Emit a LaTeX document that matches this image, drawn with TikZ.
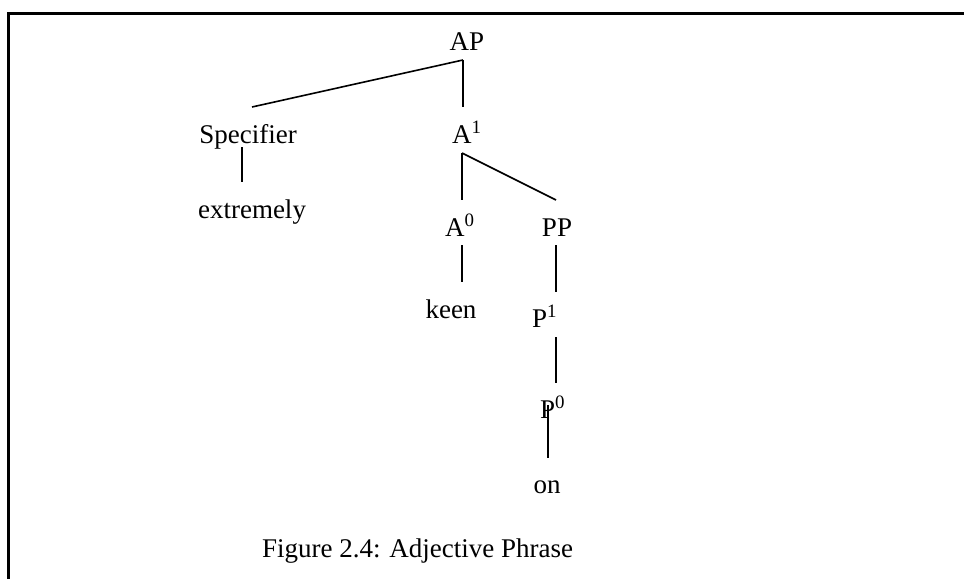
\documentclass[tikz,border=0pt]{standalone}
\usepackage{fontspec}
\setmainfont{Liberation Serif}
\usetikzlibrary{calc}
\begin{document}
\begin{tikzpicture}[x=1pt,y=-1pt,
  lbl/.style={inner sep=0pt,outer sep=0pt,font=\fontsize{27}{32}\selectfont},
  edge/.style={line width=1.6pt},
  frame/.style={line width=3pt}]
\useasboundingbox (0,0) rectangle (964,579);
% frame
\coordinate (fr) at (964,13);
\coordinate (fc) at (8,13);
\coordinate (fb) at (8,579);
\draw[frame] (fr) -- (fc) -- (fb);
% nodes
\node[lbl,anchor=base] (AP) at (467,50) {AP};
\node[lbl,anchor=base] (Spec) at (248,143) {Specifier};
\node[lbl,anchor=base west] (A1) at (452,143) {A\textsuperscript{1}};
\node[lbl,anchor=base] (ext) at (252,218) {extremely};
\node[lbl,anchor=base west] (A0) at (445,236) {A\textsuperscript{0}};
\node[lbl,anchor=base] (PP) at (557,236) {PP};
\node[lbl,anchor=base] (keen) at (451,318) {keen};
\node[lbl,anchor=base west] (P1) at (532,327) {P\textsuperscript{1}};
\node[lbl,anchor=base west] (P0) at (540,418) {P\textsuperscript{0}};
\node[lbl,anchor=base] (on) at (547,493) {on};
\node[lbl,anchor=base west] (cap) at (262,557) {Figure 2.4: Adjective Phrase};
% edges
\draw[edge] ($(AP.base)+(-4,10)$) -- ($(Spec.base)+(4,-36)$);
\draw[edge] ($(AP.base)+(-4,10)$) -- ($(A1.base west)+(11,-36)$);
\draw[edge] ($(Spec.base)+(-6,4)$) -- ($(ext.base)+(-10,-36)$);
\draw[edge] ($(A1.base west)+(10,10)$) -- ($(A0.base west)+(17,-36)$);
\draw[edge] ($(A1.base west)+(10,10)$) -- ($(PP.base)+(-1,-36)$);
\draw[edge] ($(A0.base west)+(17,9)$) -- ($(keen.base)+(11,-36)$);
\draw[edge] ($(PP.base)+(-1,9)$) -- ($(P1.base west)+(24,-35)$);
\draw[edge] ($(P1.base west)+(24,10)$) -- ($(P0.base west)+(16,-35)$);
\draw[edge] ($(P0.base west)+(8,-13)$) -- ($(on.base)+(1,-35)$);
\end{tikzpicture}
\end{document}
